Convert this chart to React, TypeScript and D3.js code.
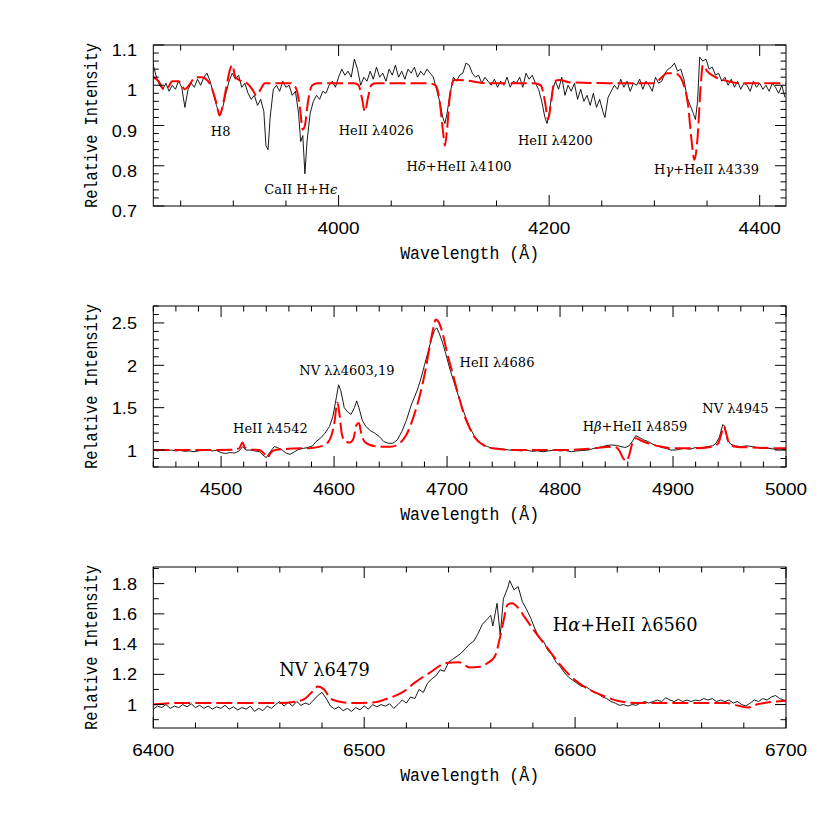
import React from 'react';
import * as d3 from 'd3';

type Pt = [number, number];

// ---------- Panel 1 (3824-4425 Å) ----------
const OBS_1: Pt[] = [
  [3824,1.05],[3827,1.02],[3830,1.0],[3833,0.99],[3836,1.005],[3839,0.985],[3842,1.0],[3845,0.99],[3848,1.01],[3851,0.995],
  [3854,0.945],[3857,0.99],[3860,1.005],[3863,0.995],[3866,1.015],[3869,1.0],[3872,1.02],[3875,1.03],[3878,1.01],[3881,0.98],
  [3884,0.95],[3887,0.925],[3890,0.945],[3893,0.98],[3896,1.01],[3899,1.03],[3902,1.015],[3905,1.025],[3908,0.995],[3911,1.005],
  [3914,0.98],[3917,0.965],[3920,0.975],[3923,0.95],[3926,0.965],[3929,0.935],[3931,0.85],[3933,0.84],[3935,0.92],[3938,0.99],
  [3941,1.0],[3944,0.985],[3947,1.01],[3950,0.995],[3953,1.0],[3956,0.975],[3959,0.985],[3962,0.93],[3964,0.86],[3966,0.875],
  [3968,0.78],[3970,0.86],[3973,0.93],[3976,0.96],[3979,0.975],[3982,0.965],[3985,0.985],[3988,0.98],[3991,1.0],[3994,1.01],
  [3997,0.995],[4000,1.02],[4003,1.04],[4006,1.025],[4009,1.035],[4012,1.02],[4015,1.065],[4018,1.04],[4021,1.0],[4024,1.02],
  [4027,1.01],[4030,1.035],[4033,1.015],[4036,1.045],[4039,1.02],[4042,1.03],[4045,1.01],[4048,1.04],[4051,1.025],[4054,1.05],
  [4057,1.02],[4060,1.035],[4063,1.015],[4066,1.04],[4069,1.03],[4072,1.045],[4075,1.02],[4078,1.035],[4081,1.025],[4084,1.04],
  [4087,1.03],[4090,1.02],[4093,0.99],[4096,0.96],[4099,0.92],[4101,0.905],[4103,0.93],[4106,0.98],[4109,1.02],[4112,1.01],
  [4115,1.025],[4118,1.03],[4121,1.055],[4124,1.05],[4127,1.03],[4130,1.02],[4133,1.025],[4136,1.005],[4139,1.02],[4142,1.01],
  [4145,1.0],[4148,1.015],[4151,0.995],[4154,1.01],[4157,1.0],[4160,1.02],[4163,0.995],[4166,1.01],[4169,1.005],[4172,1.02],
  [4175,0.995],[4178,1.03],[4181,1.015],[4184,1.025],[4187,1.005],[4190,0.99],[4193,0.96],[4196,0.92],[4198,0.905],[4200,0.93],
  [4203,0.985],[4206,1.01],[4209,0.99],[4212,1.02],[4215,0.975],[4218,1.0],[4221,0.985],[4224,1.005],[4227,0.965],[4230,0.99],
  [4233,0.96],[4236,0.975],[4239,0.95],[4242,0.98],[4245,0.945],[4248,0.965],[4251,0.935],[4253,0.92],[4256,0.97],[4259,0.985],
  [4262,1.0],[4265,0.99],[4268,1.015],[4271,0.995],[4274,1.01],[4277,0.985],[4280,1.005],[4283,1.0],[4286,1.015],[4289,0.99],
  [4292,1.01],[4295,1.0],[4298,0.985],[4301,1.02],[4304,1.005],[4307,1.01],[4310,1.03],[4313,1.04],[4316,1.045],[4319,1.055],
  [4322,1.035],[4325,1.04],[4328,1.015],[4331,0.97],[4334,0.95],[4337,0.93],[4339,0.915],[4341,0.96],[4343,1.07],[4346,1.06],
  [4349,1.065],[4352,1.04],[4355,1.045],[4358,1.025],[4361,1.03],[4364,1.01],[4367,1.02],[4370,1.0],[4373,1.015],[4376,0.995],
  [4379,1.01],[4382,0.99],[4385,1.005],[4388,1.0],[4391,0.985],[4394,1.01],[4397,0.995],[4400,1.005],[4403,0.99],[4406,1.0],
  [4409,0.985],[4412,1.005],[4415,0.995],[4418,0.98],[4421,1.0],[4424,0.97]
];
const MODEL_1: Pt[] = [
  [3824,1.02],[3829,1.01],[3834,0.99],[3838,0.995],[3842,1.01],[3848,1.01],[3851,1.0],[3854,0.99],[3858,1.0],[3864,1.02],
  [3870,1.02],[3876,1.01],[3880,0.99],[3884,0.955],[3887,0.925],[3890,0.95],[3893,0.99],[3897,1.04],[3899,1.05],[3902,1.02],
  [3908,1.01],[3913,1.005],[3918,0.99],[3922,0.975],[3926,0.99],[3930,1.005],[3940,1.005],[3955,1.005],[3960,0.99],[3963,0.95],
  [3966,0.89],[3968,0.9],[3971,0.96],[3975,1.0],[3980,1.005],[4015,1.005],[4019,1.0],[4022,0.97],[4025,0.935],[4028,0.97],
  [4031,1.0],[4035,1.005],[4085,1.005],[4092,1.0],[4096,0.96],[4099,0.89],[4101,0.85],[4103,0.89],[4106,0.98],[4110,1.013],
  [4120,1.012],[4140,1.005],[4185,1.005],[4192,1.0],[4196,0.96],[4199,0.915],[4202,0.96],[4205,1.01],[4210,1.013],[4220,1.007],
  [4260,1.005],[4300,1.005],[4307,1.02],[4312,1.03],[4318,1.03],[4323,1.025],[4328,1.0],[4332,0.95],[4335,0.87],[4338,0.815],
  [4341,0.87],[4344,1.0],[4346,1.05],[4350,1.035],[4358,1.02],[4370,1.01],[4380,1.005],[4425,1.005]
];

// ---------- Panel 2 (4440-5000 Å) ----------
const OBS_2: Pt[] = [
  [4440,1.0],[4444,0.99],[4448,1.0],[4452,0.995],[4456,1.0],[4460,0.99],[4464,0.995],[4468,0.985],[4472,0.99],[4476,0.98],
  [4480,0.99],[4484,0.995],[4488,1.0],[4492,0.99],[4496,0.995],[4500,0.97],[4504,0.96],[4508,0.97],[4512,0.965],[4516,0.99],
  [4519,1.04],[4522,1.0],[4526,1.0],[4530,0.99],[4534,0.98],[4538,0.93],[4540,0.91],[4543,0.97],[4547,1.04],[4550,1.03],
  [4554,1.0],[4558,0.96],[4561,0.95],[4565,0.98],[4569,1.01],[4573,1.02],[4577,1.03],[4581,1.05],[4584,1.1],[4588,1.14],
  [4592,1.2],[4596,1.28],[4599,1.4],[4602,1.62],[4604,1.77],[4606,1.7],[4609,1.5],[4612,1.45],[4615,1.42],[4618,1.5],
  [4620,1.58],[4622,1.5],[4625,1.35],[4628,1.28],[4632,1.23],[4636,1.2],[4640,1.16],[4644,1.1],[4648,1.08],[4652,1.08],
  [4656,1.12],[4660,1.22],[4664,1.35],[4668,1.52],[4671,1.62],[4674,1.72],[4677,1.85],[4680,2.0],[4683,2.15],[4686,2.3],
  [4689,2.42],[4691,2.44],[4693,2.38],[4696,2.27],[4699,2.13],[4702,1.98],[4705,1.85],[4708,1.72],[4711,1.6],[4714,1.48],
  [4717,1.37],[4720,1.27],[4724,1.17],[4728,1.1],[4732,1.06],[4736,1.04],[4740,1.02],[4745,1.02],[4750,1.01],[4755,1.0],
  [4760,1.0],[4765,0.99],[4770,1.0],[4775,0.985],[4780,0.99],[4785,0.98],[4790,0.99],[4795,1.0],[4800,0.99],[4805,0.995],
  [4810,0.98],[4815,0.99],[4820,0.995],[4825,1.0],[4830,1.02],[4835,1.03],[4840,1.05],[4845,1.06],[4850,1.055],[4854,1.04],
  [4858,1.03],[4861,1.05],[4864,1.1],[4867,1.17],[4870,1.15],[4874,1.12],[4878,1.1],[4882,1.07],[4886,1.05],[4890,1.03],
  [4894,1.02],[4898,1.0],[4902,1.0],[4906,1.01],[4910,1.02],[4915,1.01],[4920,1.03],[4925,1.02],[4930,1.04],[4935,1.05],
  [4938,1.08],[4941,1.15],[4944,1.3],[4946,1.28],[4948,1.12],[4951,1.07],[4955,1.05],[4960,1.04],[4965,1.05],[4970,1.04],
  [4975,1.03],[4980,1.02],[4985,1.02],[4990,1.01],[4995,1.015],[5000,1.0]
];
const MODEL_2: Pt[] = [
  [4440,1.0],[4480,1.0],[4510,1.005],[4516,1.02],[4519,1.09],[4521,1.03],[4526,1.005],[4534,1.0],[4538,0.96],[4541,0.91],
  [4544,0.97],[4548,1.0],[4560,1.015],[4580,1.025],[4590,1.05],[4596,1.12],[4600,1.3],[4603,1.56],[4605,1.4],[4607,1.18],
  [4610,1.1],[4614,1.09],[4617,1.13],[4620,1.3],[4622,1.32],[4624,1.2],[4627,1.1],[4632,1.06],[4640,1.04],[4650,1.04],
  [4658,1.08],[4664,1.18],[4670,1.38],[4676,1.65],[4681,1.95],[4685,2.25],[4688,2.45],[4690,2.54],[4693,2.5],[4696,2.38],
  [4700,2.15],[4705,1.9],[4710,1.65],[4715,1.42],[4720,1.26],[4725,1.14],[4732,1.06],[4740,1.02],[4760,1.0],[4800,1.0],
  [4830,1.02],[4845,1.04],[4850,1.03],[4853,0.98],[4856,0.9],[4859,0.87],[4861,0.93],[4864,1.08],[4867,1.14],[4872,1.11],
  [4880,1.07],[4890,1.04],[4900,1.02],[4920,1.02],[4935,1.04],[4940,1.08],[4943,1.2],[4945,1.28],[4947,1.2],[4950,1.07],
  [4955,1.04],[4970,1.03],[5000,1.02]
];

// ---------- Panel 3 (6400-6700 Å) ----------
const OBS_3: Pt[] = [
  [6400,0.97],[6402,0.99],[6404,0.98],[6406,1.0],[6408,0.975],[6410,0.99],[6412,0.98],[6414,1.0],[6416,0.985],[6418,1.005],
  [6420,0.98],[6422,0.995],[6424,0.975],[6426,0.99],[6428,0.97],[6430,0.985],[6432,0.975],[6434,0.995],[6436,0.97],[6438,0.985],
  [6440,0.965],[6442,0.98],[6444,0.97],[6446,0.99],[6448,0.955],[6450,0.975],[6452,0.96],[6454,0.99],[6456,0.975],[6458,1.0],
  [6460,1.02],[6462,0.99],[6464,1.015],[6466,0.99],[6468,1.02],[6470,0.995],[6472,1.01],[6474,1.0],[6476,1.03],[6478,1.06],
  [6480,1.08],[6482,1.04],[6484,0.99],[6486,0.97],[6488,0.985],[6490,0.96],[6492,0.975],[6494,0.955],[6496,0.98],[6498,0.965],
  [6500,0.99],[6502,0.97],[6504,1.0],[6506,0.985],[6508,1.0],[6510,0.99],[6512,1.005],[6514,0.975],[6516,1.0],[6518,1.03],
  [6520,1.01],[6522,1.05],[6524,1.04],[6526,1.1],[6528,1.08],[6530,1.14],[6532,1.17],[6534,1.19],[6536,1.23],[6538,1.22],
  [6540,1.28],[6542,1.3],[6544,1.32],[6546,1.34],[6548,1.37],[6550,1.4],[6552,1.42],[6554,1.47],[6556,1.53],[6558,1.56],
  [6560,1.59],[6561,1.52],[6563,1.67],[6564.5,1.46],[6566,1.7],[6568,1.77],[6569,1.82],[6571,1.76],[6573,1.78],[6575,1.68],
  [6577,1.63],[6579,1.57],[6581,1.5],[6583,1.44],[6585,1.42],[6587,1.36],[6589,1.33],[6591,1.28],[6593,1.25],[6595,1.21],
  [6597,1.18],[6599,1.16],[6601,1.14],[6603,1.12],[6605,1.12],[6607,1.1],[6609,1.08],[6611,1.07],[6613,1.05],[6615,1.04],
  [6617,1.02],[6619,1.01],[6621,0.995],[6623,1.0],[6625,0.99],[6627,1.0],[6629,0.995],[6631,1.01],[6633,1.02],[6635,1.01],
  [6637,1.02],[6639,1.03],[6641,1.02],[6643,1.045],[6645,1.03],[6647,1.02],[6649,1.035],[6651,1.02],[6653,1.03],[6655,1.02],
  [6657,1.03],[6659,1.025],[6661,1.04],[6663,1.03],[6665,1.04],[6667,1.02],[6669,1.03],[6671,1.02],[6673,1.03],[6675,1.01],
  [6677,1.02],[6679,1.0],[6681,0.99],[6683,1.01],[6685,1.03],[6687,1.02],[6689,1.04],[6691,1.03],[6693,1.05],[6695,1.06],
  [6697,1.04],[6699,1.03],[6700,1.025]
];
const MODEL_3: Pt[] = [
  [6400,1.0],[6410,1.01],[6440,1.01],[6460,1.01],[6468,1.02],[6472,1.04],[6475,1.08],[6478,1.12],[6481,1.1],[6484,1.04],
  [6488,1.02],[6495,1.01],[6505,1.015],[6510,1.035],[6518,1.08],[6524,1.145],[6531,1.21],[6539,1.275],[6545,1.28],[6550,1.245],
  [6555,1.25],[6558,1.27],[6562,1.32],[6564,1.42],[6566,1.55],[6568,1.66],[6570,1.67],[6573,1.64],[6576,1.58],[6580,1.5],
  [6586,1.39],[6592,1.28],[6597,1.2],[6602,1.14],[6608,1.09],[6614,1.055],[6620,1.025],[6630,1.01],[6660,1.01],[6672,1.01],
  [6678,0.99],[6682,0.98],[6686,1.0],[6692,1.015],[6700,1.025]
];

// ---------- Axes ----------
const X_DOMAIN_1 = [3824, 4425];
const Y_DOMAIN_1 = [0.7, 1.1];
const X_DOMAIN_2 = [4440, 5000];
const Y_DOMAIN_2 = [0.8, 2.7];
const X_DOMAIN_3 = [6400, 6700];
const Y_DOMAIN_3 = [0.845, 1.91];

const X_LABELS_1 = [4000, 4200, 4400];
const X_LABELS_2 = [4500, 4600, 4700, 4800, 4900, 5000];
const X_LABELS_3 = [6400, 6500, 6600, 6700];
const Y_LABELS_1 = ['0.7', '0.8', '0.9', '1', '1.1'];
const Y_LABELS_2 = ['1', '1.5', '2', '2.5'];
const Y_LABELS_3 = ['1', '1.2', '1.4', '1.6', '1.8'];

// ---------- Annotations (anchor in data coords) ----------
const ANNOT_1 = [
  { text: 'H8', wl: 3888, flux: 0.874 },
  { text: 'CaII H+Hϵ', wl: 3964, flux: 0.73 },
  { text: 'HeII λ4026', wl: 4035.6, flux: 0.876 },
  { text: 'Hδ+HeII λ4100', wl: 4114.4, flux: 0.787 },
  { text: 'HeII λ4200', wl: 4206, flux: 0.851 },
  { text: 'Hγ+HeII λ4339', wl: 4349.5, flux: 0.78 },
];
const ANNOT_2 = [
  { text: 'HeII λ4542', wl: 4543.7, flux: 1.201 },
  { text: 'NV λλ4603,19', wl: 4611.4, flux: 1.886 },
  { text: 'HeII λ4686', wl: 4744.2, flux: 1.98 },
  { text: 'Hβ+HeII λ4859', wl: 4866.4, flux: 1.225 },
  { text: 'NV λ4945', wl: 4955.3, flux: 1.437 },
];
const ANNOT_3 = [
  { text: 'NV λ6479', wl: 6481.2, flux: 1.189 },
  { text: 'Hα+HeII λ6560', wl: 6623.7, flux: 1.487 },
];

const LEFT = 153.3;
const RIGHT = 786;
const PH = 161;
const MONO = '"Liberation Mono", "DejaVu Sans Mono", monospace';
const SANS = '"Liberation Sans", Arial, sans-serif';
const SERIF = '"DejaVu Serif", "Liberation Serif", serif';

function stepTicks(lo: number, hi: number, step: number): number[] {
  const a = Math.ceil(lo / step - 1e-6);
  const b = Math.floor(hi / step + 1e-6);
  return d3.range(a, b + 1).map((i) => +(i * step).toFixed(6));
}
function isMult(v: number, step: number) {
  const r = v / step;
  return Math.abs(r - Math.round(r)) < 1e-6;
}

function AnnotText({ text, x, y, size }: { text: string; x: number; y: number; size: number }) {
  const parts = Array.from(text);
  const greek = new Set(['α', 'β', 'γ', 'δ', 'ϵ']);
  return (
    <text x={x} y={y} textAnchor="middle" fontFamily={SERIF} fontSize={size} fill="#000">
      {parts.map((c, i) =>
        greek.has(c) ? (
          <tspan key={i} fontStyle="italic">{c}</tspan>
        ) : (
          <tspan key={i}>{c}</tspan>
        )
      )}
    </text>
  );
}

interface PanelProps {
  id: string;
  top: number;
  xDomain: number[];
  yDomain: number[];
  obs: Pt[];
  model: Pt[];
  xLabels: number[];
  xMajor: number;
  xMinor: number;
  yLabels: string[];
  yMajor: number;
  yMinor: number;
  yLabelDy: number;
  annots: { text: string; wl: number; flux: number }[];
  annotSize: number;
}

function Panel(p: PanelProps) {
  const bottom = p.top + PH;
  const x = d3.scaleLinear().domain(p.xDomain).range([LEFT, RIGHT]);
  const y = d3.scaleLinear().domain(p.yDomain).range([bottom, p.top]);
  const line = d3.line<Pt>().x((d) => x(d[0])).y((d) => y(d[1]));
  const mline = d3.line<Pt>().x((d) => x(d[0])).y((d) => y(d[1])).curve(d3.curveMonotoneX);
  const xt = stepTicks(p.xDomain[0], p.xDomain[1], p.xMinor);
  const yt = stepTicks(p.yDomain[0], p.yDomain[1], p.yMinor);
  const MAJ = 11;
  const MIN = 5.5;
  const midY = (p.top + bottom) / 2;
  return (
    <g>
      <defs>
        <clipPath id={p.id}>
          <rect x={LEFT} y={p.top} width={RIGHT - LEFT} height={PH} />
        </clipPath>
      </defs>
      <g clipPath={`url(#${p.id})`}>
        <path d={line(p.obs) || ''} fill="none" stroke="#000" strokeWidth={0.9} strokeLinejoin="round" />
        <path d={mline(p.model) || ''} fill="none" stroke="#ff0000" strokeWidth={2} strokeDasharray="16 5" />
      </g>
      <rect x={LEFT} y={p.top} width={RIGHT - LEFT} height={PH} fill="none" stroke="#000" strokeWidth={1} />
      {xt.map((v) => {
        const len = isMult(v, p.xMajor) ? MAJ : MIN;
        const xx = x(v);
        return (
          <g key={'x' + v}>
            <line x1={xx} x2={xx} y1={bottom} y2={bottom - len} stroke="#000" strokeWidth={1} />
            <line x1={xx} x2={xx} y1={p.top} y2={p.top + len} stroke="#000" strokeWidth={1} />
          </g>
        );
      })}
      {yt.map((v) => {
        const len = isMult(v, p.yMajor) ? MAJ : MIN;
        const yy = y(v);
        return (
          <g key={'y' + v}>
            <line x1={LEFT} x2={LEFT + len} y1={yy} y2={yy} stroke="#000" strokeWidth={1} />
            <line x1={RIGHT} x2={RIGHT - len} y1={yy} y2={yy} stroke="#000" strokeWidth={1} />
          </g>
        );
      })}
      {p.xLabels.map((v) => (
        <text
          key={'xl' + v}
          transform={`translate(${x(v)},${bottom + 28}) scale(1.15,1)`}
          textAnchor="middle"
          fontFamily={SANS}
          fontSize={16.5}
          fill="#000"
        >
          {v}
        </text>
      ))}
      {p.yLabels.map((s) => (
        <text
          key={'yl' + s}
          transform={`translate(137,${y(+s) + p.yLabelDy}) scale(1.1,1)`}
          textAnchor="end"
          fontFamily={SANS}
          fontSize={16.5}
          fill="#000"
        >
          {s}
        </text>
      ))}
      <text
        x={(LEFT + RIGHT) / 2}
        y={bottom + 53}
        textAnchor="middle"
        fontFamily={MONO}
        fontSize={18}
        textLength={139}
        lengthAdjust="spacingAndGlyphs"
        fill="#000"
      >
        Wavelength (Å)
      </text>
      <text
        transform={`translate(97,${midY}) rotate(-90)`}
        textAnchor="middle"
        fontFamily={MONO}
        fontSize={17.5}
        textLength={165}
        lengthAdjust="spacingAndGlyphs"
        fill="#000"
      >
        Relative Intensity
      </text>
      {p.annots.map((a) => (
        <AnnotText key={a.text} text={a.text} x={x(a.wl)} y={y(a.flux)} size={p.annotSize} />
      ))}
    </g>
  );
}

export default function App() {
  return (
    <svg
      width={830}
      height={830}
      viewBox="0 0 830 830"
      style={{ position: 'absolute', left: 0, top: 0, display: 'block', background: '#fff' }}
    >
      <rect x={0} y={0} width={830} height={830} fill="#fff" />
      <Panel id="clip1" top={45} xDomain={X_DOMAIN_1} yDomain={Y_DOMAIN_1} obs={OBS_1} model={MODEL_1}
        xLabels={X_LABELS_1} xMajor={200} xMinor={50} yLabels={Y_LABELS_1} yMajor={0.1} yMinor={0.02}
        yLabelDy={11} annots={ANNOT_1} annotSize={13} />
      <Panel id="clip2" top={306} xDomain={X_DOMAIN_2} yDomain={Y_DOMAIN_2} obs={OBS_2} model={MODEL_2}
        xLabels={X_LABELS_2} xMajor={100} xMinor={20} yLabels={Y_LABELS_2} yMajor={0.5} yMinor={0.1}
        yLabelDy={6.5} annots={ANNOT_2} annotSize={13} />
      <Panel id="clip3" top={567} xDomain={X_DOMAIN_3} yDomain={Y_DOMAIN_3} obs={OBS_3} model={MODEL_3}
        xLabels={X_LABELS_3} xMajor={100} xMinor={20} yLabels={Y_LABELS_3} yMajor={0.2} yMinor={0.1}
        yLabelDy={6} annots={ANNOT_3} annotSize={17.8} />
    </svg>
  );
}
